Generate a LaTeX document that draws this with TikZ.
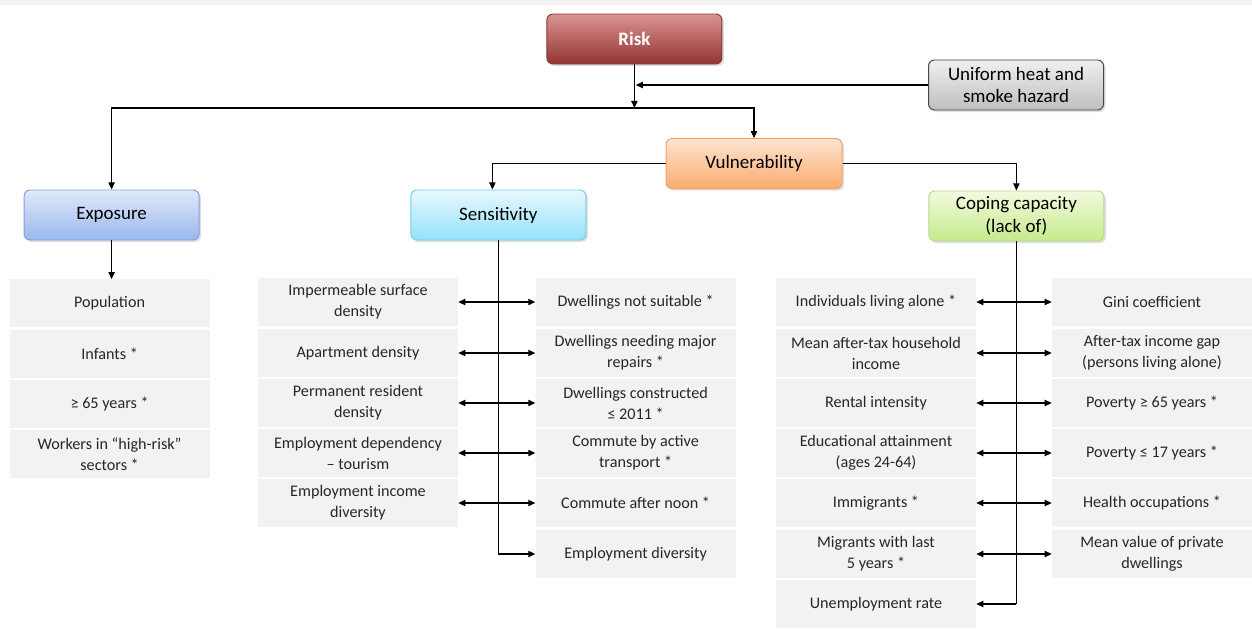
\documentclass[tikz,border=0pt]{standalone}
\usepackage{fontspec}
\setmainfont{Carlito}
\usetikzlibrary{arrows.meta,shadows}

\definecolor{itemgray}{RGB}{242,242,242}
\definecolor{bandgray}{RGB}{243,243,243}
\definecolor{riskTop}{RGB}{218,148,146}
\definecolor{riskMid}{RGB}{193,82,79}
\definecolor{riskBot}{RGB}{146,52,50}
\definecolor{riskLine}{RGB}{140,56,54}
\definecolor{hazTop}{RGB}{240,240,240}
\definecolor{hazBot}{RGB}{190,190,190}
\definecolor{hazLine}{RGB}{70,70,70}
\definecolor{vulTop}{RGB}{253,228,208}
\definecolor{vulBot}{RGB}{250,172,112}
\definecolor{vulLine}{RGB}{247,160,96}
\definecolor{expTop}{RGB}{224,233,250}
\definecolor{expBot}{RGB}{154,183,238}
\definecolor{expLine}{RGB}{128,160,216}
\definecolor{senTop}{RGB}{232,248,254}
\definecolor{senBot}{RGB}{148,226,249}
\definecolor{senLine}{RGB}{118,204,232}
\definecolor{copTop}{RGB}{242,250,222}
\definecolor{copBot}{RGB}{198,234,140}
\definecolor{copLine}{RGB}{180,218,140}

\tikzset{
  box/.style={rounded corners=0.15cm, minimum width=4.375cm, minimum height=1.25cm,
    align=center, inner sep=2pt, line width=0.7pt, font=\fontsize{13.5}{16.3}\selectfont,
    drop shadow={opacity=0.25, shadow xshift=0.05cm, shadow yshift=-0.05cm}},
  item/.style={fill=itemgray, minimum width=5cm, minimum height=1.18cm, align=center,
    inner sep=0pt, text=black!85, font=\fontsize{11.5}{15}\selectfont},
  link/.style={-{Triangle[length=5pt,width=4.5pt]}, line width=0.8pt},
  twoway/.style={{Triangle[length=5pt,width=4.5pt]}-{Triangle[length=5pt,width=4.5pt]}, line width=0.8pt},
}

\begin{document}
\begin{tikzpicture}
 \useasboundingbox (0,0) rectangle (31.3,-15.725);
 \fill[bandgray] (0,0) rectangle (31.3,-0.13);

 % top of the tree
 \node[box, draw=riskLine, top color=riskTop, middle color=riskMid, bottom color=riskBot,
   text=white, font=\fontsize{13.5}{16.3}\selectfont\bfseries] (risk) at (15.86,-0.975) {Risk};
 \node[box, draw=hazLine, top color=hazTop, bottom color=hazBot] (hazard) at (25.4,-2.125) {Uniform heat and\\smoke hazard};
 \node[box, draw=vulLine, top color=vulTop, bottom color=vulBot, minimum width=4.4cm] (vul) at (18.85,-4.09) {Vulnerability};
 \node[box, draw=expLine, top color=expTop, bottom color=expBot] (exp) at (2.79,-5.375) {Exposure};
 \node[box, draw=senLine, top color=senTop, bottom color=senBot] (sens) at (12.46,-5.375) {Sensitivity};
 \node[box, draw=copLine, top color=copTop, bottom color=copBot] (cope) at (25.41,-5.4) {Coping capacity\\(lack of)};

 \coordinate (split) at (15.86,-2.7);
 \draw[link] (risk.south) -- (split);
 \draw[link, shorten >=1pt] (hazard.west) -- (risk.south |- hazard.west);
 \draw[link] (split) -| (exp.north);
 \draw[link] (split) -| (vul.north);
 \draw[link] (vul.west) -| ([xshift=-0.15cm]sens.north);
 \draw[link] (vul.east) -| (cope.north);

 % exposure
 \node[item] (e1) at (2.74,-7.575) {Population};
 \node[item] (e2) at (2.74,-8.85) {Infants *};
 \node[item] (e3) at (2.74,-10.1) {≥ 65 years *};
 \node[item] (e4) at (2.74,-11.35) {Workers in “high-risk”\\sectors *};
 \draw[link] (exp.south) -- (exp.south |- e1.north);

 % sensitivity
 \node[item] (sl1) at (8.95,-7.55) {Impermeable surface\\density};
 \node[item] (sl2) at (8.95,-8.825) {Apartment density};
 \node[item] (sl3) at (8.95,-10.075) {Permanent resident\\density};
 \node[item] (sl4) at (8.95,-11.325) {Employment dependency\\– tourism};
 \node[item] (sl5) at (8.95,-12.575) {Employment income\\diversity};
 \node[item] (sr1) at (15.89,-7.55) {Dwellings not suitable *};
 \node[item] (sr2) at (15.89,-8.825) {Dwellings needing major\\repairs *};
 \node[item] (sr3) at (15.89,-10.075) {Dwellings constructed\\≤ 2011 *};
 \node[item] (sr4) at (15.89,-11.325) {Commute by active\\transport *};
 \node[item] (sr5) at (15.89,-12.575) {Commute after noon *};
 \node[item] (sr6) at (15.89,-13.85) {Employment diversity};
 \draw[line width=0.8pt] (sens.south) -- (sens.south |- sr6.west);
 \draw[link] (sens.south |- sr6.west) -- (sr6.west);
 \draw[twoway] (sl1.east) -- (sr1.west);
 \draw[twoway] (sl2.east) -- (sr2.west);
 \draw[twoway] (sl3.east) -- (sr3.west);
 \draw[twoway] (sl4.east) -- (sr4.west);
 \draw[twoway] (sl5.east) -- (sr5.west);

 % coping capacity
 \node[item] (cl1) at (21.9,-7.55) {Individuals living alone *};
 \node[item] (cl2) at (21.9,-8.825) {Mean after-tax household\\income};
 \node[item] (cl3) at (21.9,-10.075) {Rental intensity};
 \node[item] (cl4) at (21.9,-11.325) {Educational attainment\\(ages 24-64)};
 \node[item] (cl5) at (21.9,-12.575) {Immigrants *};
 \node[item] (cl6) at (21.9,-13.85) {Migrants with last\\5 years *};
 \node[item] (cl7) at (21.9,-15.1) {Unemployment rate};
 \node[item] (cr1) at (28.8,-7.55) {Gini coefficient};
 \node[item] (cr2) at (28.8,-8.825) {After-tax income gap\\(persons living alone)};
 \node[item] (cr3) at (28.8,-10.075) {Poverty ≥ 65 years *};
 \node[item] (cr4) at (28.8,-11.325) {Poverty ≤ 17 years *};
 \node[item] (cr5) at (28.8,-12.575) {Health occupations *};
 \node[item] (cr6) at (28.8,-13.85) {Mean value of private\\dwellings};
 \draw[line width=0.8pt] (cope.south) -- (cope.south |- cl7.east);
 \draw[link] (cope.south |- cl7.east) -- (cl7.east);
 \draw[twoway] (cl1.east) -- (cr1.west);
 \draw[twoway] (cl2.east) -- (cr2.west);
 \draw[twoway] (cl3.east) -- (cr3.west);
 \draw[twoway] (cl4.east) -- (cr4.west);
 \draw[twoway] (cl5.east) -- (cr5.west);
 \draw[twoway] (cl6.east) -- (cr6.west);
\end{tikzpicture}
\end{document}
